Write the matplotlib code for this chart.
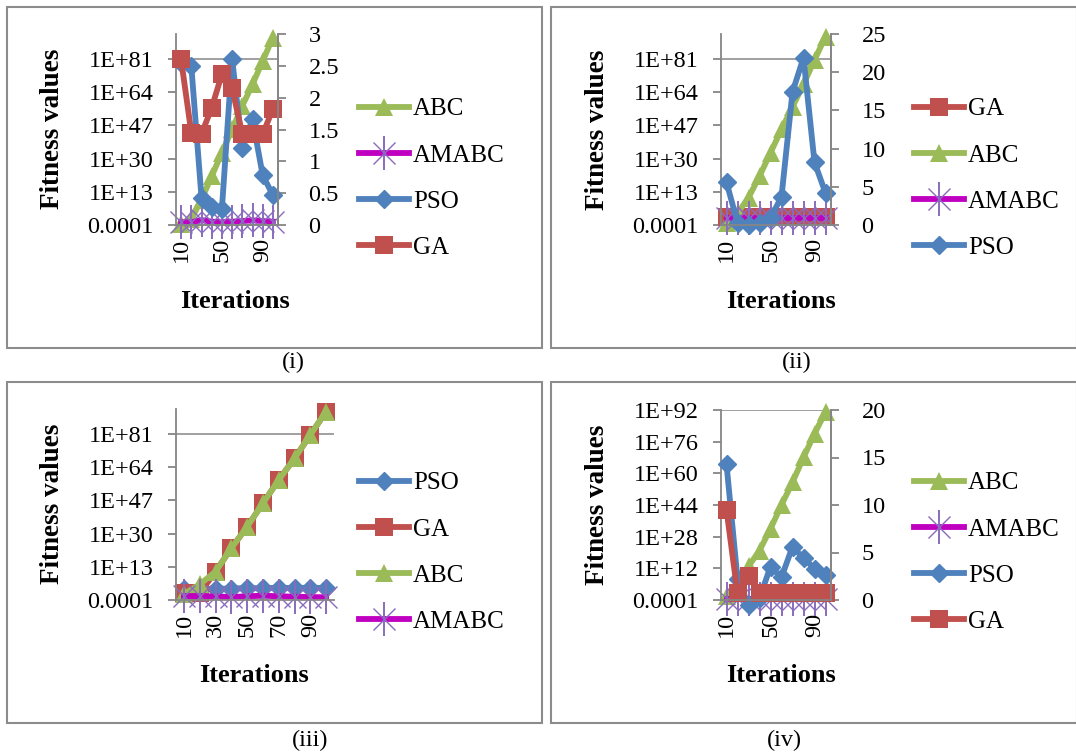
import matplotlib
matplotlib.use('Agg')
import matplotlib.pyplot as plt
import numpy as np
from matplotlib.patches import Rectangle
from matplotlib.legend_handler import HandlerTuple
from matplotlib.ticker import NullLocator

W, H = 1076, 754
plt.rcParams['font.family'] = ['Liberation Serif', 'DejaVu Serif']

iterations = [10, 20, 30, 40, 50, 60, 70, 80, 90, 100]

# panel (i) - log axis values are log10 of the fitness, right axis values are plain
abc_1 = [-3.5, -1, 9, 21, 33, 45, 57, 68, 80, 92]
amabc_1 = [-2.6, -2.6, -1.5, -2.3, -2.6, -2.3, -2.0, -1.6, -2.0, -2.3]
pso_1 = [2.55, 2.5, 0.43, 0.28, 0.25, 2.61, 1.21, 1.66, 0.78, 0.47]
ga_1 = [2.6, 1.45, 1.43, 1.84, 2.37, 2.15, 1.43, 1.43, 1.43, 1.82]

# panel (ii)
ga_2 = [0.3, 0.3, 0.3, 0.3, 0.3, 0.3, 0.3, 0.3, 0.3, 0.3]
abc_2 = [-3, 2, 10, 21, 33, 45, 56.5, 68, 80.5, 92.5]
amabc_2 = [-0.3, -0.3, -0.3, -0.3, -0.3, -0.3, -0.3, -0.3, -0.3, -0.3]
pso_2 = [5.6, 0.3, 0.0, 0.3, 0.9, 3.7, 17.4, 21.9, 8.2, 4.2]

# panel (iii) - everything on the log axis
pso_3 = [1.5, 1.5, 1.8, 1.8, 2.2, 1.9, 2.4, 2.0, 2.4, 2.0]
ga_3 = [-0.5, -0.5, 10.5, 22.5, 33.5, 45.5, 57.5, 68.5, 80.5, 92.5]
abc_3 = [-1, 4, 10.5, 22.5, 33.5, 45.5, 57.5, 68.5, 80.5, 92.5]
amabc_3 = [-2.0, -2.0, -2.2, -2.5, -2.1, -1.8, -2.1, -2.3, -2.5, -2.6]

# panel (iv)
abc_4 = [-2, 4.5, 13, 21, 32, 44, 55.5, 68, 80, 91]
amabc_4 = [-3.5, -3.5, -3.5, -3.5, -3.5, -3.5, -3.5, -3.5, -3.5, -3.5]
pso_4 = [14.3, 2.2, -0.5, 0.2, 3.5, 2.4, 5.6, 4.4, 3.3, 2.6]
ga_4 = [9.5, 0.7, 2.5, 0.7, 0.7, 0.7, 0.7, 0.7, 0.7, 0.7]

log_ticks_a = [-4, 13, 30, 47, 64, 81]
log_ticks_b = [-4, 12, 28, 44, 60, 76, 92]

GREY = '#868686'
FS = 17.5
LW = 4.2
STYLE = {
    'PSO': dict(color='#4F81BD', marker='D', ms=9.5, mew=1),
    'GA': dict(color='#C0504D', marker='s', ms=13.5, mew=0),
    'ABC': dict(color='#9BBB59', marker='^', ms=13, mew=0),
}


def px_rect(left, top, right, bottom):
    return [left / W, 1 - bottom / H, (right - left) / W, (bottom - top) / H]


def log_label(e):
    return '0.0001' if e == -4 else 'E+'.join(['1', str(e)])


def draw_series(ax, name, vals):
    x = np.arange(len(iterations))
    if name == 'AMABC':
        ln, = ax.plot(x, vals, color='#C000C0', lw=LW, marker='x', ms=16,
                      mec='#8A6BBE', mew=1, clip_on=False)
        bar, = ax.plot(x, vals, ls='none', marker='|', ms=24, mec='#8A6BBE',
                       mew=1.4, clip_on=False)
        return (ln, bar)
    st = STYLE[name]
    ln, = ax.plot(x, vals, color=st['color'], lw=LW, marker=st['marker'],
                  ms=st['ms'], mfc=st['color'], mec=st['color'], mew=st['mew'],
                  clip_on=False)
    return ln


def style_axis(ax):
    for s in ax.spines.values():
        s.set_color(GREY)
        s.set_linewidth(1.3)
    ax.spines['top'].set_visible(False)
    ax.tick_params(axis='y', colors=GREY, labelcolor='black', labelsize=FS,
                   length=6, width=1.3, pad=10)
    ax.tick_params(axis='x', length=0, labelsize=FS, pad=9)


def draw_panel(plot_px, log_ticks, log_top, right_ticks, right_labels, series,
               xticks, grid_exp, ylab_xy, xlab_xy, legend_xy, box, caption,
               caption_xy):
    ax = fig.add_axes(px_rect(*plot_px))
    ax.set_yscale('log')
    ax.set_ylim(1e-4, 10.0 ** log_top)
    ax.set_xlim(-0.5, len(iterations) - 0.5)
    ax.patch.set_alpha(0)
    style_axis(ax)
    ax.yaxis.set_minor_locator(NullLocator())
    ax.set_yticks([10.0 ** e for e in log_ticks])
    ax.set_yticklabels([log_label(e) for e in log_ticks])
    ax.set_xticks(xticks)
    ax.set_xticklabels([str(iterations[i]) for i in xticks], rotation=90,
                       va='top', ha='center')
    ax.axhline(10.0 ** grid_exp, color=GREY, lw=1.1, zorder=0.5)
    ax2 = None
    if right_ticks is not None:
        ax2 = ax.twinx()
        style_axis(ax2)
        ax2.spines['left'].set_visible(False)
        ax2.set_ylim(right_ticks[0], right_ticks[-1])
        ax2.set_yticks(right_ticks)
        ax2.set_yticklabels(right_labels)
        ax2.tick_params(axis='y', pad=16)
    else:
        ax.spines['right'].set_visible(False)

    handles, labels = [], []
    for name, side, vals in series:
        if side == 'log':
            h = draw_series(ax, name, 10.0 ** np.array(vals, dtype=float))
        else:
            h = draw_series(ax2, name, vals)
        handles.append(h)
        labels.append(name)

    fig.text(ylab_xy[0] / W, 1 - ylab_xy[1] / H, 'Fitness values', rotation=90,
             ha='center', va='center', fontsize=19.5, fontweight='bold')
    fig.text(xlab_xy[0] / W, 1 - xlab_xy[1] / H, 'Iterations',
             ha='center', va='center', fontsize=19, fontweight='bold')
    fig.legend(handles, labels, loc='center left',
               bbox_to_anchor=(legend_xy[0] / W, 1 - legend_xy[1] / H),
               frameon=False, fontsize=18, handlelength=2.0, handletextpad=0.15,
               labelspacing=0.95, borderpad=0, borderaxespad=0, numpoints=1,
               handler_map={tuple: HandlerTuple(ndivide=1)})
    x0, y0, x1, y1 = box
    fig.add_artist(Rectangle((x0 / W, 1 - y1 / H), (x1 - x0) / W, (y1 - y0) / H,
                             transform=fig.transFigure, fill=False,
                             ec='#8C8C8C', lw=1.5))
    fig.text(caption_xy[0] / W, 1 - caption_xy[1] / H, caption, ha='center',
             va='center', fontsize=FS)


fig = plt.figure(figsize=(W / 100, H / 100), dpi=100)

draw_panel((176, 34, 278, 225), log_ticks_a, 93.8,
           [0, 0.5, 1, 1.5, 2, 2.5, 3], ['0', '0.5', '1', '1.5', '2', '2.5', '3'],
           [('ABC', 'log', abc_1), ('AMABC', 'log', amabc_1),
            ('PSO', 'right', pso_1), ('GA', 'right', ga_1)],
           [0, 4, 8], 81, (53, 129), (235, 302), (359, 178.5),
           (7, 7, 542, 348), '(i)', (293, 362))

draw_panel((721, 34, 831, 225), log_ticks_a, 93.8,
           [0, 5, 10, 15, 20, 25], ['0', '5', '10', '15', '20', '25'],
           [('GA', 'log', ga_2), ('ABC', 'log', abc_2),
            ('AMABC', 'log', amabc_2), ('PSO', 'right', pso_2)],
           [0, 4, 8], 81, (597, 130), (781, 302), (914, 178.5),
           (551, 7, 1077, 348), '(ii)', (797, 362))

draw_panel((176, 409, 334, 600), log_ticks_a, 93.8, None, None,
           [('PSO', 'log', pso_3), ('GA', 'log', ga_3),
            ('ABC', 'log', abc_3), ('AMABC', 'log', amabc_3)],
           [0, 2, 4, 6, 8], 81, (53, 504), (254, 675), (359, 552.5),
           (7, 382, 542, 723), '(iii)', (310, 740))

draw_panel((721, 410, 831, 600), log_ticks_b, 92,
           [0, 5, 10, 15, 20], ['0', '5', '10', '15', '20'],
           [('ABC', 'log', abc_4), ('AMABC', 'log', amabc_4),
            ('PSO', 'right', pso_4), ('GA', 'right', ga_4)],
           [0, 4, 8], 92, (597, 505), (781, 675), (914, 552.5),
           (551, 382, 1077, 723), '(iv)', (784, 740))

fig.savefig('out.png', dpi=100)
